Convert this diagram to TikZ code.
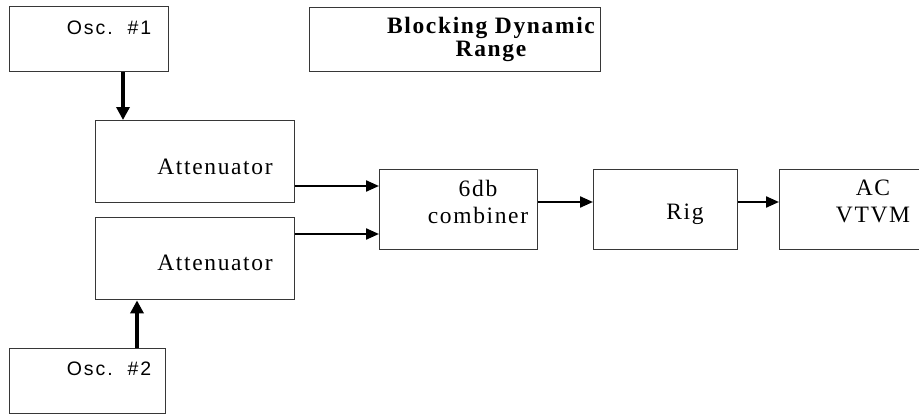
\documentclass[tikz,border=0pt]{standalone}
\usepackage{fontspec}
\setmainfont{Liberation Serif}[LetterSpace=7]
\newfontfamily\oscfont{Liberation Sans}[LetterSpace=10]
\usetikzlibrary{arrows.meta}
\definecolor{boxline}{RGB}{55,55,55}
\tikzset{
  blk/.style={draw=boxline, line width=1.4pt, inner sep=0pt, anchor=north west},
  txt/.style={inner sep=0pt, align=center, font=\fontsize{23.5}{27}\selectfont},
  osctxt/.style={inner sep=0pt, font=\oscfont\fontsize{19.5}{24}\selectfont},
  thickarr/.style={line width=4pt, -{Triangle[length=13pt,width=13pt]}},
  thinarr/.style={line width=2.2pt, -{Triangle[length=13pt,width=11pt]}},
}
\begin{document}
\begin{tikzpicture}[x=1pt,y=-1pt]
\useasboundingbox (0,0) rectangle (919,415);
\clip (0,0) rectangle (919,415);
% boxes
\node[blk, minimum width=159pt, minimum height=65pt] (osc1) at (9,6) {};
\node[blk, minimum width=291pt, minimum height=64pt] (title) at (309,7) {};
\node[blk, minimum width=199pt, minimum height=82pt] (att1) at (95,120) {};
\node[blk, minimum width=199pt, minimum height=82pt] (att2) at (95,217) {};
\node[blk, minimum width=156pt, minimum height=65pt] (osc2) at (9,348) {};
\node[blk, minimum width=158pt, minimum height=80pt] (comb) at (379,169) {};
\node[blk, minimum width=144pt, minimum height=80pt] (rig) at (593,169) {};
\node[blk, minimum width=160pt, minimum height=80pt] (vtvm) at (779,169) {};
% texts
\node[osctxt] (t1) at (109,28) {Osc.~~\#1};
\node[osctxt] (t2) at (109,369) {Osc.~~\#2};
\node[txt, font=\bfseries\fontsize{23.5}{23}\selectfont] (tt) at (491,39.5) {Blocking Dynamic\\Range};
\node[txt] (ta1) at (215,167) {Attenuator};
\node[txt] (ta2) at (215,263) {Attenuator};
\node[txt] (tc) at (478,201.5) {6db\\combiner};
\node[txt] (tr) at (685,214) {Rig};
\node[txt] (tv) at (873,201.5) {AC\\VTVM};
% connectors
\draw[thickarr] (osc1.south -| 123,0) -- (att1.north -| 123,0);
\draw[thickarr] (osc2.north -| 137,0) -- (att2.south -| 137,0);
\draw[thinarr] (att1.east |- 0,186) -- (comb.west |- 0,186);
\draw[thinarr] (att2.east |- 0,234) -- (comb.west |- 0,234);
\draw[thinarr] (comb.east |- 0,202) -- (rig.west |- 0,202);
\draw[thinarr] (rig.east |- 0,202) -- (vtvm.west |- 0,202);
\end{tikzpicture}
\end{document}
